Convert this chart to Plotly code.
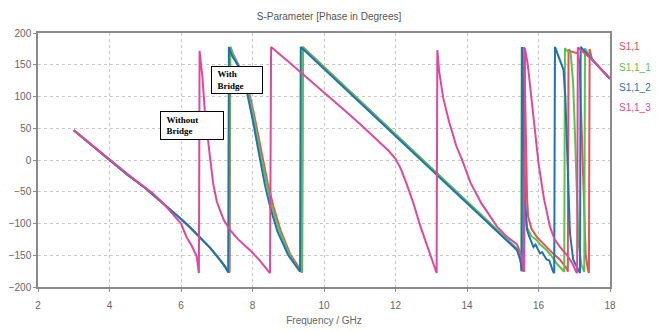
import plotly.graph_objects as go

# ---- data (frequency in GHz, phase in degrees) ----
f_s11 = [3.0, 3.5, 4.0, 4.5, 5.0, 5.5, 6.0, 6.25, 6.5, 6.81, 7.0, 7.2, 7.36, 7.38,
         7.45, 7.65, 7.9, 8.05, 8.25, 8.42, 8.58, 8.78, 9.05, 9.25, 9.39, 9.41,
         10.5, 11.5, 12.5, 13.5, 14.5, 15.0, 15.4, 15.5, 15.58, 15.6, 15.64, 15.68,
         15.71, 15.8, 15.95, 16.1, 16.23, 16.4, 16.6, 16.79, 16.82, 16.84, 16.9,
         17.0, 17.1, 17.15, 17.2, 17.25, 17.32, 17.38, 17.41, 17.43, 17.5, 17.8, 18.0]
p_s11 = [47, 24, 0, -23, -44, -68, -93, -106, -120, -138, -151, -165, -177, 178,
         168, 145, 108, 70, 12, -35, -72, -110, -148, -166, -177, 178,
         120, 67, 14, -39, -92, -118, -140, -160, -176, 178, 50, -60,
         -89, -108, -121, -130, -137, -147, -157, -171, -176, 174, 171,
         170, 168, 150, 60, -60, -150, -172, -178, 175, 158, 140, 128]

f_s11_1 = [3.0, 3.5, 4.0, 4.5, 5.0, 5.5, 6.0, 6.25, 6.5, 6.81, 7.0, 7.2, 7.35, 7.37,
           7.45, 7.63, 7.88, 8.03, 8.22, 8.4, 8.55, 8.75, 9.03, 9.23, 9.38, 9.4,
           10.5, 11.5, 12.5, 13.5, 14.5, 15.0, 15.4, 15.5, 15.52, 15.53, 15.58, 15.63,
           15.67, 15.8, 15.95, 16.05, 16.23, 16.35, 16.51, 16.69, 16.72, 16.74, 16.8,
           16.9, 16.97, 17.02, 17.07, 17.12, 17.2, 17.28, 17.3, 17.5, 17.8, 18.0]
p_s11_1 = [47, 24, 0, -23, -44, -68, -93, -106, -120, -138, -151, -165, -177, 178,
           166, 146, 106, 68, 10, -38, -74, -111, -149, -167, -177, 178,
           120, 67, 14, -39, -92, -118, -140, -158, -175, 178, 40, -80,
           -105, -120, -126, -133, -142, -150, -163, -173, -176, 176, 172,
           168, 120, 40, -40, -130, -165, -176, 176, 158, 140, 128]

f_s11_2 = [3.0, 3.5, 4.0, 4.5, 5.0, 5.5, 6.0, 6.25, 6.5, 6.81, 7.0, 7.2, 7.32, 7.34,
           7.42, 7.6, 7.85, 8.0, 8.18, 8.35, 8.5, 8.7, 9.0, 9.2, 9.33, 9.35,
           10.5, 11.5, 12.5, 13.5, 14.5, 15.0, 15.4, 15.5, 15.53, 15.54, 15.58, 15.62,
           15.68, 15.75, 15.86, 15.92, 16.04, 16.1, 16.23, 16.3, 16.41, 16.44, 16.46,
           16.6, 16.7, 16.75, 16.8, 16.85, 16.88, 16.97, 17.1, 17.16, 17.18, 17.5, 17.8, 18.0]
p_s11_2 = [47, 24, 0, -23, -44, -68, -93, -106, -120, -138, -151, -165, -177, 178,
           165, 148, 105, 65, 10, -40, -75, -113, -150, -166, -176, 178,
           117, 64, 11, -42, -95, -121, -142, -158, -175, 178, 50, -60,
           -110, -122, -137, -133, -147, -145, -157, -158, -176, -178, 178,
           157, 142, 100, 20, -60, -115, -157, -172, -178, 178, 158, 140, 128]

f_s11_3 = [3.0, 3.5, 4.0, 4.5, 4.8, 5.0, 5.2, 5.5, 5.8, 6.0, 6.16, 6.3, 6.44, 6.48,
           6.5, 6.52, 6.6, 6.67, 6.75, 6.81, 6.9, 7.0, 7.09, 7.2, 7.37, 7.6, 7.93,
           8.2, 8.49, 8.52, 9.0, 9.5, 10.0, 10.5, 11.0, 11.5, 11.8, 12.0, 12.15,
           12.3, 12.5, 12.7, 12.96, 13.1, 13.15, 13.17, 13.22, 13.33, 13.5, 13.7,
           13.85, 14.1, 14.4, 14.84, 15.1, 15.4, 15.52, 15.6, 15.62, 15.7, 15.8,
           15.9, 16.0, 16.15, 16.32, 16.45, 16.6, 16.8, 16.95, 17.05, 17.08, 17.1,
           17.5, 17.8, 18.0]
p_s11_3 = [47, 24, 0, -22, -35, -44, -52, -68, -88, -100, -122, -135, -152, -170,
           -178, 172, 130, 74, 30, 5, -37, -65, -79, -95, -110, -125, -142,
           -158, -178, 178, 155, 131, 107, 82, 57, 31, 15, 2, -14,
           -36, -68, -105, -147, -170, -178, 173, 140, 99, 60, 22,
           2, -36, -68, -105, -120, -133, -150, -176, 176, 150, 95,
           40, -5, -60, -105, -125, -137, -150, -163, -176, -178, 177,
           158, 140, 128]

series_names = ["S1,1", "S1,1_1", "S1,1_2", "S1,1_3"]
series_colors = ["#e8505b", "#5cc24a", "#1f72b8", "#e0489c"]
x_ticks = [2, 4, 6, 8, 10, 12, 14, 16, 18]
y_ticks = [-200, -150, -100, -50, 0, 50, 100, 150, 200]

series = [(f_s11, p_s11), (f_s11_1, p_s11_1), (f_s11_2, p_s11_2), (f_s11_3, p_s11_3)]

fig = go.Figure()
for (fx, py), name, col in zip(series, series_names, series_colors):
    fig.add_trace(go.Scatter(x=fx, y=py, mode="lines", name=name,
                             line=dict(color=col, width=2), showlegend=False))

axis_font = dict(family="Liberation Sans", size=10, color="#666666")
fig.update_xaxes(range=[2, 18], tickvals=x_ticks, showgrid=True, gridcolor="#c8c8c8",
                 griddash="dot", gridwidth=1, showline=True, linecolor="#8a8a8a",
                 linewidth=1.5, mirror=True, ticks="outside", ticklen=3, tickcolor="#8a8a8a",
                 tickfont=axis_font, zeroline=False, ticklabelstandoff=5, automargin=False,
                 title=dict(text="Frequency / GHz", font=axis_font, standoff=7))
fig.update_yaxes(range=[-200, 200], tickvals=y_ticks, showgrid=True, gridcolor="#c8c8c8",
                 griddash="dot", gridwidth=1, showline=True, linecolor="#8a8a8a",
                 linewidth=1.5, mirror=True, ticks="outside", ticklen=3, tickcolor="#8a8a8a",
                 tickfont=axis_font, zeroline=False, automargin=False)

annotations = []
# legend-like coloured labels
legend_y = [0.945, 0.865, 0.785, 0.708]
for name, col, yy in zip(series_names, series_colors, legend_y):
    annotations.append(dict(xref="paper", yref="paper", x=1.012, y=yy, xanchor="left",
                            yanchor="middle", text=name, showarrow=False,
                            font=dict(family="Liberation Sans", size=10, color=col)))
# boxes
box_font = dict(family="Liberation Serif", size=9, color="black")
annotations.append(dict(x=7.57, y=126, xref="x", yref="y",
                        text="<b>&nbsp;&nbsp;With<br>&nbsp;&nbsp;Bridge</b>",
                        showarrow=False, align="left", width=48, height=24,
                        bgcolor="white", bordercolor="black", borderwidth=1, borderpad=1,
                        font=box_font))
annotations.append(dict(x=6.31, y=54, xref="x", yref="y",
                        text="<b>&nbsp;&nbsp;Without<br>&nbsp;&nbsp;Bridge</b>",
                        showarrow=False, align="left", width=60, height=25,
                        bgcolor="white", bordercolor="black", borderwidth=1, borderpad=1,
                        font=box_font))

fig.update_layout(
    width=658, height=332,
    margin=dict(l=38, r=48, t=33, b=45),
    paper_bgcolor="white", plot_bgcolor="white",
    title=dict(text="S-Parameter [Phase in Degrees]", x=0.5, xanchor="center",
               y=1 - 16 / 332, yanchor="middle",
               font=dict(family="Liberation Sans", size=10, color="#555555")),
    annotations=annotations,
)

fig.write_html("out.html")
